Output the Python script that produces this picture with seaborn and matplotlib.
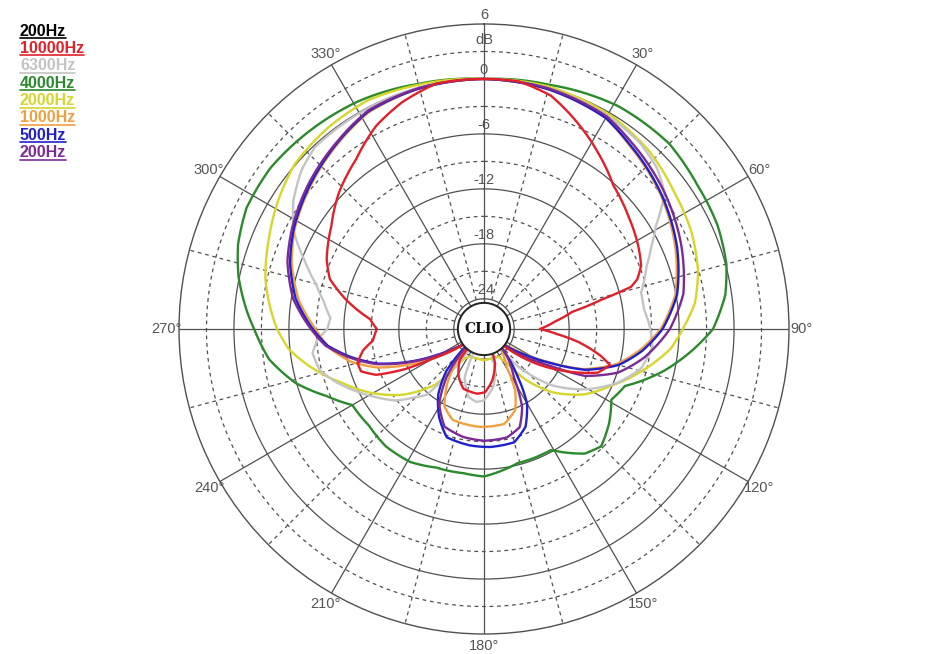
import numpy as np
import pandas as pd
import matplotlib
matplotlib.use("Agg")
import matplotlib.pyplot as plt
from matplotlib.lines import Line2D
import seaborn as sns

# ---------------- data (angle in degrees, level in dB) ----------------
ang_200 = [0, 15, 30, 38, 53, 67, 80, 90, 100, 108, 115, 119, 124, 130, 133,
           137, 148, 154, 160, 168, 180, 191, 202, 211, 218, 225, 229,
           233, 236, 241, 246, 252, 258, 264, 270, 279, 289, 298, 310, 322, 332, 345, 360]
db_200 = [0, -0.1, -0.5, -1.3, -2.6, -3.9, -5.2, -7.0, -9.5, -11.9, -15.2, -19.0, -21.8, -24.4, -27.3,
          -24.2, -21.2, -17.8, -15.9, -15.2, -15.1, -15.3, -15.8, -17.8, -20.7, -24.5, -27.3,
          -24.5, -23.7, -21.3, -18.4, -14.9, -12.3, -9.9, -8.4, -6.2, -4.6, -3.6, -2.4, -1.3, -0.3, -0.05, 0]

ang_500 = [0, 15, 30, 38, 53, 67, 80, 90, 98, 105, 112, 117, 122, 128, 133,
           138, 144, 150, 157, 165, 177, 187, 199, 207, 215, 222, 226, 229,
           233, 236, 241, 246, 252, 258, 264, 270, 279, 289, 298, 310, 322, 332, 345, 360]
db_500 = [0, -0.2, -0.7, -1.6, -3.0, -4.4, -5.9, -7.8, -9.9, -12.1, -15.4, -19.1, -22.0, -24.4, -27.3,
          -24.0, -21.3, -17.9, -15.7, -14.5, -14.4, -14.5, -14.8, -16.5, -18.6, -21.2, -24.0, -27.3,
          -24.5, -23.7, -21.5, -18.6, -15.1, -12.5, -10.1, -8.6, -6.5, -4.9, -3.8, -2.6, -1.4, -0.4, -0.1, 0]

ang_1000 = [0, 15, 30, 38, 53, 67, 80, 90, 98, 105, 112, 117, 122, 127, 132,
            140, 149, 153, 159, 168, 182, 199, 207, 214, 221, 227,
            233, 238, 244, 250, 256, 263, 270, 279, 289, 298, 310, 322, 332, 345, 360]
db_1000 = [0, -0.2, -0.7, -1.7, -3.1, -4.6, -6.1, -8.0, -10.2, -12.4, -15.6, -19.3, -22.3, -24.8, -27.3,
           -24.5, -22.5, -19.8, -17.8, -16.7, -16.6, -16.8, -17.8, -20.1, -23.0, -27.3,
           -24.3, -22.0, -18.6, -15.0, -12.4, -10.3, -8.9, -6.8, -5.1, -3.9, -2.7, -1.5, -0.5, -0.1, 0]

ang_2000 = [0, 15, 31, 43, 54, 65, 75, 83, 90, 96, 104, 114, 123, 133, 141, 146, 152, 165, 180, 195,
            208, 213, 216, 221, 231, 241, 249, 258, 264, 270, 276, 283, 293, 302, 311, 322, 333, 345, 360]
db_2000 = [0, 0.1, -0.2, -0.8, -1.7, -2.3, -3.1, -4.1, -5.6, -6.8, -9.2, -12.1, -14.2, -17.2, -20.3,
           -22.8, -23.9, -24.0, -23.9, -24.0, -23.9, -23.5, -22.8, -19.3, -15.9, -13.0, -10.8, -7.8,
           -5.9, -4.7, -3.8, -2.8, -1.8, -0.8, 0.1, 0.5, 0.7, 0.3, 0]

ang_4000 = [0, 15, 31, 45, 56, 66, 75, 82, 90, 96, 103, 112, 119, 127, 135, 141, 151, 166, 180, 188,
            199, 209, 220, 230, 240, 247, 254, 262, 270, 274, 282, 289, 297, 307, 319, 331, 345, 360]
db_4000 = [0, 0.3, 1.1, 1.3, 0.8, 0.6, 0.1, -0.7, -2.3, -4.5, -7.1, -10.7, -11.4, -10.2, -9.2, -9.8,
           -12.2, -12.2, -11.2, -11.4, -11.3, -10.7, -10.6, -10.9, -10.7, -8.6, -5.9, -3.6, -2.2, -1.4,
           0.1, 1.1, 1.8, 1.9, 1.5, 1.1, 0.4, 0]

ang_6300 = [0, 15, 30, 40, 47, 53, 59, 64, 69, 77, 83, 89, 96, 104, 112, 121, 130, 138, 143, 160,
            165, 171, 180, 186, 193, 202, 207, 213, 218, 221, 226, 231, 238, 244, 250, 256, 262, 266,
            270, 274, 280, 285, 291, 297, 304, 311, 317, 330, 345, 360]
db_6300 = [0, -0.1, -0.4, -0.8, -1.5, -2.6, -5.4, -7.0, -8.3, -9.7, -9.7, -9.2, -8.8, -9.6, -11.6,
           -14.5, -17.8, -21.9, -27.3, -27.3, -22.5, -20.9, -19.5, -19.3, -19.7, -21.7, -27.3, -27.3,
           -21.3, -17.8, -16.5, -14.9, -13.3, -11.8, -10.2, -8.8, -8.4, -9.0, -10.2, -10.5, -9.5,
           -8.3, -6.3, -4.0, -2.2, -0.9, -0.2, -0.1, 0, 0]

ang_10000 = [0, 8, 16, 24, 33, 42, 52, 62, 68, 72, 74, 76, 79, 84, 90, 94, 98, 103, 106, 111,
             117, 124, 129, 134, 156, 162, 171, 179, 186, 199, 208, 218, 224, 230, 235, 240, 243,
             247, 251, 255, 260, 264, 270, 275, 282, 288, 294, 304, 313, 323, 332, 340, 349, 360]
db_10000 = [0, 0, -0.8, -2.5, -4.4, -6.2, -7.3, -8.2, -8.8, -9.7, -10.6, -14.1, -17.5, -19.5, -21.2,
            -19.3, -16.8, -14.2, -13.0, -14.0, -17.1, -20.7, -23.5, -27.3, -27.3, -23.4, -21.6, -20.4,
            -20.2, -20.4, -21.4, -23.0, -27.3, -27.3, -23.6, -20.9, -17.7, -14.5, -13.1, -13.0, -13.9,
            -15.1, -15.6, -14.8, -11.9, -9.6, -8.5, -7.2, -5.6, -4.1, -2.2, -1.0, 0, 0]

legend_labels = ["200Hz", "10000Hz", "6300Hz", "4000Hz", "2000Hz", "1000Hz", "500Hz", "200Hz"]
legend_colors = ["#000000", "#e0202a", "#c4c4c4", "#2b8a2b", "#d6d62c", "#f0a040", "#2020cc", "#7b2a96"]

theta_labels = ["", "30°", "60°", "90°", "120°", "150°", "180°", "210°", "240°", "270°", "300°", "330°"]
r_label_values = [6, 0, -6, -12, -18, -24]
r_min, r_max = -27.3, 6

# series: (angles, dB, colour), in drawing order
series = [
    (ang_4000, db_4000, "#2b8a2b"),
    (ang_2000, db_2000, "#d6d62c"),
    (ang_6300, db_6300, "#c4c4c4"),
    (ang_1000, db_1000, "#f0a040"),
    (ang_500, db_500, "#2020cc"),
    (ang_200, db_200, "#7b2a96"),
    (ang_10000, db_10000, "#e0202a"),
]

# ---------------- figure ----------------
sns.set_style("white")
plt.rcParams["font.family"] = ["Liberation Sans", "DejaVu Sans"]

W, H = 944, 654
fig = plt.figure(figsize=(W / 100, H / 100), dpi=100)
cx, cy, R = 484, 329, 305
ax = fig.add_axes([(cx - R) / W, (H - cy - R) / H, 2 * R / W, 2 * R / H], projection="polar")
ax.set_theta_zero_location("N")
ax.set_theta_direction(-1)
ax.grid(False)

gc = "#505050"
full = np.linspace(0, 2 * np.pi, 721)
# radial lines every 15 deg
for d in range(0, 360, 15):
    t = np.deg2rad(d)
    ls = "-" if d % 30 == 0 else (0, (3, 3))
    ax.plot([t, t], [r_min, r_max], color=gc, lw=0.9, ls=ls, zorder=1)
# rings every 3 dB
for rv in range(-24, 6, 3):
    ls = "-" if rv % 6 == 0 else (0, (3, 3))
    ax.plot(full, np.full_like(full, rv), color=gc, lw=0.9, ls=ls, zorder=1)

n_before = len(ax.get_lines())
for ang, db, col in series:
    df = pd.DataFrame({"theta": np.deg2rad(ang), "db": np.clip(db, r_min, r_max)})
    sns.lineplot(data=df, x="theta", y="db", ax=ax, color=col, lw=1.7,
                 sort=False, estimator=None, zorder=3)
# draw the curve segments along polar (theta, r) paths rather than straight chords
for ln in ax.get_lines()[n_before:]:
    ln.recache(always=True)
    ln._path._interpolation_steps = 24

ax.set_ylim(r_min, r_max)
ax.set_xlabel("")
ax.set_ylabel("")
ax.set_xticks(np.deg2rad(np.arange(0, 360, 30)))
ax.set_xticklabels(theta_labels)
ax.tick_params(axis="x", pad=2, labelsize=10.5, colors="#555555", length=0)
ax.set_yticks([])
ax.spines["polar"].set_color(gc)
ax.spines["polar"].set_linewidth(1.0)

# radial labels
for v in r_label_values:
    ax.text(0, v + 1.0, str(v), ha="center", va="center", fontsize=10.5, color="#555555", zorder=4)
ax.text(0, 4.3, "dB", ha="center", va="center", fontsize=10.5, color="#555555", zorder=4)

# CLIO centre badge
ax.fill(full, np.full_like(full, -24.45), facecolor="white", edgecolor="#222222", lw=1.4, zorder=5)
ax.text(0, r_min, "CLIO", ha="center", va="center", fontsize=10, fontweight="bold",
        family=["DejaVu Serif"], color="#111111", zorder=6)

# legend (underlined coloured texts)
texts = []
for i, (lab, col) in enumerate(zip(legend_labels, legend_colors)):
    y = 31 + i * 17.4
    t = fig.text(20 / W, 1 - y / H, lab, ha="left", va="center", fontsize=11.5,
                 fontweight="bold", color=col)
    texts.append((t, col))
fig.canvas.draw()
rend = fig.canvas.get_renderer()
for t, col in texts:
    bb = t.get_window_extent(rend)
    yl = bb.y0 + 0.5
    fig.add_artist(Line2D([bb.x0 / W, bb.x1 / W], [yl / H, yl / H], color=col, lw=1.2,
                          transform=fig.transFigure))

fig.savefig("out.png", dpi=100, facecolor="white")
